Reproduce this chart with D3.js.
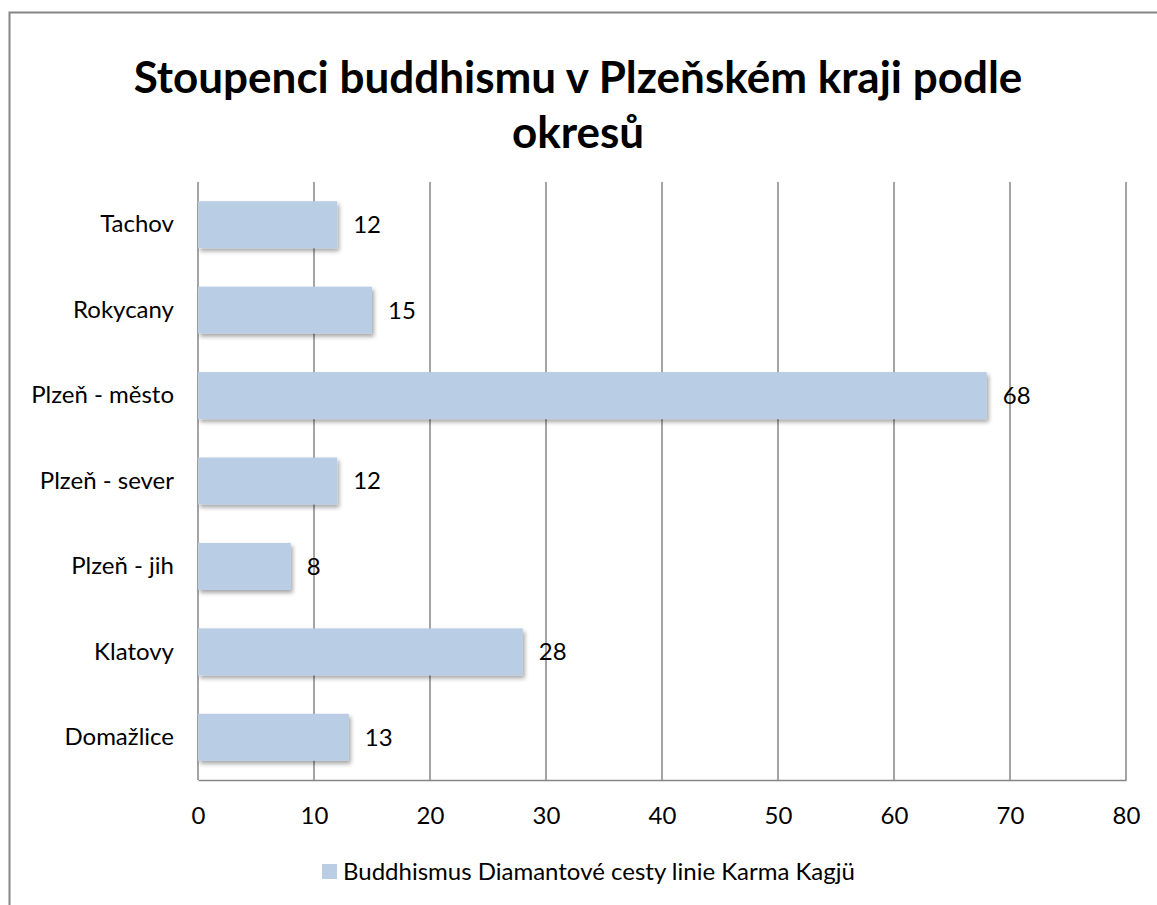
<!DOCTYPE html>
<html>
<head>
<meta charset="utf-8">
<script src="https://cdn.jsdelivr.net/npm/d3@7"></script>
<style>
  body { margin: 0; background: #fff; }
  text { font-family: Lato, "Open Sans", sans-serif; fill: #000; }
</style>
</head>
<body>
<svg id="chart"></svg>
<script>
const categories = ["Tachov", "Rokycany", "Plzeň - město", "Plzeň - sever", "Plzeň - jih", "Klatovy", "Domažlice"];
const values = [12, 15, 68, 12, 8, 28, 13];
const xTicks = [0, 10, 20, 30, 40, 50, 60, 70, 80];
const titleLines = ["Stoupenci buddhismu v Plzeňském kraji podle", "okresů"];
const seriesName = "Buddhismus Diamantové cesty linie Karma Kagjü";

const width = 1157, height = 905;
const margin = { top: 182, right: 31, bottom: 125, left: 198 };

const svg = d3.select("#chart").attr("width", width).attr("height", height);

const defs = svg.append("defs");
const shadow = defs.append("filter").attr("id", "shadow")
  .attr("x", "-5%").attr("y", "-20%").attr("width", "115%").attr("height", "150%");
shadow.append("feDropShadow")
  .attr("dx", 2).attr("dy", 3).attr("stdDeviation", 2)
  .attr("flood-color", "#000").attr("flood-opacity", 0.35);

// outer chart border
svg.append("rect")
  .attr("x", 9.5).attr("y", 12.5)
  .attr("width", width + 20).attr("height", height + 20)
  .attr("fill", "none").attr("stroke", "#868686").attr("stroke-width", 2);

const x = d3.scaleLinear().domain([0, 80]).range([margin.left, width - margin.right]);
const y = d3.scaleBand().domain(categories).range([margin.top, height - margin.bottom]).paddingInner(0.45).paddingOuter(0.225);

// gridlines
svg.append("g")
  .selectAll("line")
  .data(xTicks)
  .join("line")
  .attr("x1", d => x(d)).attr("x2", d => x(d))
  .attr("y1", margin.top).attr("y2", height - margin.bottom)
  .attr("stroke", "#868686").attr("stroke-width", 1.5);

// bars
svg.append("g")
  .selectAll("rect")
  .data(categories)
  .join("rect")
  .attr("x", x(0))
  .attr("y", d => y(d))
  .attr("width", (d, i) => x(values[i]) - x(0))
  .attr("height", y.bandwidth())
  .attr("fill", "#b9cde5")
  .attr("filter", "url(#shadow)");

// data labels
svg.append("g")
  .selectAll("text")
  .data(categories)
  .join("text")
  .attr("x", (d, i) => x(values[i]) + 16)
  .attr("y", d => y(d) + y.bandwidth() / 2)
  .attr("dy", "0.35em")
  .attr("font-size", 24)
  .text((d, i) => values[i]);

// bottom axis
const xAxis = svg.append("g")
  .attr("transform", `translate(0, ${height - margin.bottom})`)
  .call(d3.axisBottom(x).tickValues(xTicks).tickSize(0).tickPadding(27));
xAxis.select(".domain").attr("stroke", "#868686").attr("stroke-width", 1.5);
xAxis.selectAll("text").attr("font-size", 24).attr("font-family", "Lato, sans-serif");

// left axis
const yAxis = svg.append("g")
  .attr("transform", `translate(${margin.left}, 0)`)
  .call(d3.axisLeft(y).tickSize(0).tickPadding(24));
yAxis.select(".domain").remove();
yAxis.selectAll("text").attr("font-size", 24).attr("font-family", "Lato, sans-serif");

// title
svg.append("g")
  .selectAll("text")
  .data(titleLines)
  .join("text")
  .attr("x", 578)
  .attr("y", (d, i) => 93 + i * 55)
  .attr("text-anchor", "middle")
  .attr("font-size", 44)
  .attr("font-weight", "bold")
  .text(d => d);

// legend
const legend = svg.append("g").attr("transform", "translate(322, 864)");
legend.append("rect").attr("width", 15).attr("height", 15).attr("fill", "#b9cde5");
legend.append("text").attr("x", 21).attr("y", 8).attr("dy", "0.35em")
  .attr("font-size", 24).text(seriesName);
</script>
</body>
</html>
